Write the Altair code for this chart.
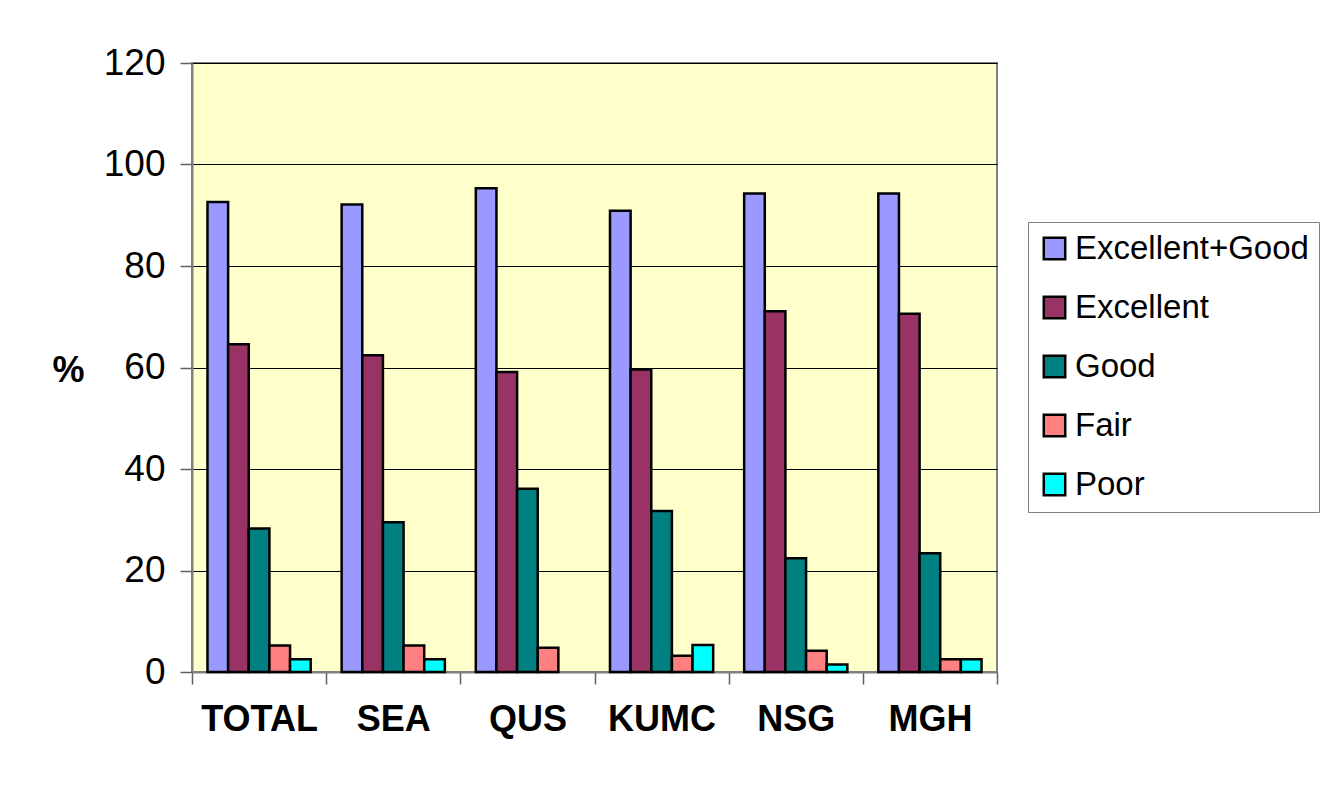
import altair as alt
import pandas as pd

sites = ["TOTAL", "SEA", "QUS", "KUMC", "NSG", "MGH"]
series = ["Excellent+Good", "Excellent", "Good", "Fair", "Poor"]
colors = ["#9999FF", "#993366", "#008080", "#FF8080", "#00FFFF"]

excellent_good = [92.6, 92.1, 95.3, 90.9, 94.3, 94.3]
excellent = [64.6, 62.4, 59.1, 59.6, 71.1, 70.6]
good = [28.3, 29.5, 36.1, 31.7, 22.4, 23.4]
fair = [5.2, 5.2, 4.8, 3.2, 4.2, 2.5]
poor = [2.5, 2.5, 0.0, 5.3, 1.5, 2.5]

values = [excellent_good, excellent, good, fair, poor]
rows = []
for s, vals in zip(series, values):
    for site, v in zip(sites, vals):
        rows.append({"site": site, "series": s, "value": v})
df = pd.DataFrame(rows)
df = df[df["value"] > 0]

FONT = "Liberation Sans"

chart = alt.Chart(df).mark_bar(stroke="black", strokeWidth=2.5).encode(
    x=alt.X("site:N", sort=sites, title=None,
            scale=alt.Scale(domain=sites, paddingInner=0, paddingOuter=0),
            axis=alt.Axis(labelAngle=0, labelFont=FONT, labelFontSize=36,
                          labelFontWeight="bold", labelColor="black",
                          labelPadding=18, tickBand="extent", tickSize=12,
                          tickColor="#606060", tickWidth=1.5,
                          domainColor="#808080", domainWidth=2, grid=False)),
    xOffset=alt.XOffset("series:N", sort=series,
                        scale=alt.Scale(domain=series, paddingInner=0, paddingOuter=0.75)),
    y=alt.Y("value:Q", title="%",
            scale=alt.Scale(domain=[0, 120], nice=False),
            axis=alt.Axis(values=[0, 20, 40, 60, 80, 100, 120],
                          labelFont=FONT, labelFontSize=37, labelColor="black",
                          labelPadding=15, tickSize=12, tickColor="#606060",
                          tickWidth=1.5, domainColor="#808080", domainWidth=2,
                          grid=True, gridColor="black", gridWidth=1,
                          titleAngle=0, titleFont=FONT, titleFontSize=36,
                          titleFontWeight="bold", titleColor="black",
                          titleX=-124, titleY=307, titleAlign="center",
                          titleBaseline="middle")),
    color=alt.Color("series:N", sort=series,
                    scale=alt.Scale(domain=series, range=colors),
                    legend=alt.Legend(title=None, orient="none",
                                      legendX=836, legendY=159,
                                      symbolType="square", symbolSize=460,
                                      symbolStrokeColor="black",
                                      symbolStrokeWidth=2.5,
                                      symbolOpacity=1,
                                      labelFont=FONT, labelFontSize=33,
                                      labelColor="black", labelLimit=500,
                                      labelOffset=4, rowPadding=25,
                                      padding=10, strokeColor="#808080",
                                      fillColor="white")),
).properties(
    width=805,
    height=609,
    autosize=alt.AutoSizeParams(type="none"),
    padding={"left": 184, "top": 55, "right": 330, "bottom": 95},
    background="white",
).configure_view(
    fill="#FFFFCC", stroke="#808080", strokeWidth=2
)

chart.save("out.html", embed_options={"renderer": "svg", "actions": False})
